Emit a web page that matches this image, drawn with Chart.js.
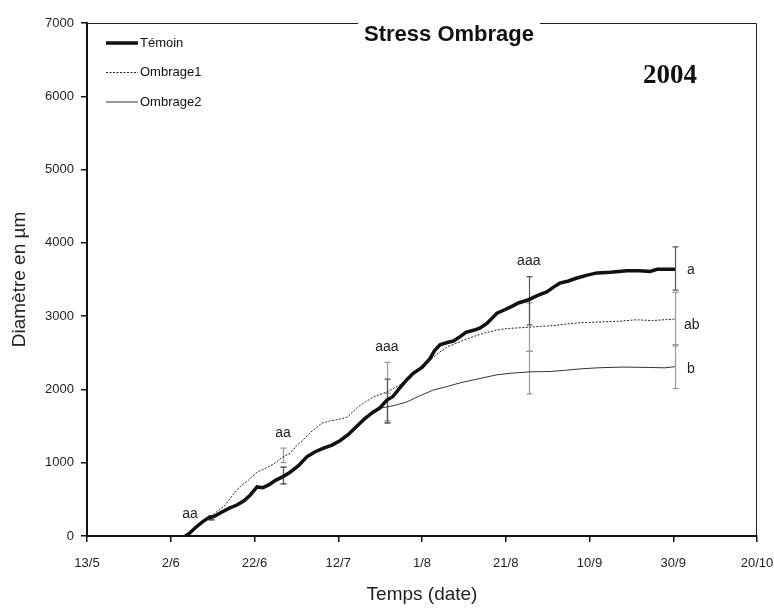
<!DOCTYPE html>
<html>
<head>
<meta charset="utf-8">
<script src="https://cdn.jsdelivr.net/npm/chart.js@4.4.0/dist/chart.umd.min.js"></script>
<style>
  html, body { margin: 0; padding: 0; background: #fff; }
</style>
</head>
<body>
<canvas id="myChart" width="774" height="610"></canvas>
<script>
// days counted from 13/5
const dateLabels = ['13/5', '2/6', '22/6', '12/7', '1/8', '21/8', '10/9', '30/9', '20/10'];

const temoinDays = [23.5, 24.5, 26, 27.5, 28.9, 30.5, 32, 34, 35.8, 37.5, 39, 40.6, 42, 43.5, 45, 46.8, 48.5, 50.5, 52.5, 54.5, 56.5, 58.5, 60.4, 62.5, 64.5, 66.5, 68.3, 69.9, 71.6, 73, 74.7, 76.5, 77.9, 80, 81.9, 83, 84.3, 86, 87.5, 89.1, 90.5, 92.5, 93.9, 95.5, 97.9, 99.5, 101.7, 103, 105.3, 107.5, 109.8, 111.5, 112.9, 115, 117, 119.5, 121.8, 125, 129, 132, 134.5, 136.1, 140.4];
const temoin = [0, 40, 120, 190, 245, 270, 320, 380, 423, 480, 560, 670, 660, 700, 760, 810, 870, 960, 1080, 1150, 1200, 1240, 1300, 1390, 1500, 1610, 1690, 1745, 1855, 1900, 2020, 2140, 2220, 2300, 2420, 2530, 2610, 2640, 2660, 2720, 2780, 2810, 2840, 2900, 3040, 3080, 3140, 3180, 3220, 3280, 3330, 3400, 3450, 3480, 3520, 3560, 3590, 3600, 3620, 3620, 3610, 3640, 3640];

const ombrage1Days = [23.5, 26, 28, 29.4, 31, 33, 34.8, 36.5, 38.5, 40.6, 42.5, 44.5, 46.8, 48.5, 50, 51.6, 53.5, 56.1, 58, 60, 62.1, 64.5, 66.5, 68.5, 71.6, 74.7, 77, 79.5, 81.9, 84, 86, 89, 92.2, 95, 97.9, 100, 103, 105.8, 108, 111.3, 114, 117.7, 122, 127, 131, 135, 140.4];
const ombrage1 = [0, 100, 200, 260, 330, 420, 560, 670, 760, 870, 920, 980, 1080, 1130, 1230, 1310, 1420, 1540, 1570, 1590, 1620, 1750, 1830, 1900, 1965, 2060, 2190, 2300, 2400, 2500, 2580, 2650, 2720, 2770, 2810, 2830, 2840, 2850, 2860, 2870, 2890, 2910, 2920, 2930, 2950, 2940, 2960];

const ombrage2Days = [23.5, 24.5, 26, 27.5, 28.9, 30.5, 32, 34, 35.8, 37.5, 39, 40.6, 42, 43.5, 45, 46.8, 48.5, 50.5, 52.5, 54.5, 56.5, 58.5, 60.4, 62.5, 64.5, 66.5, 68.3, 69.9, 71.6, 74, 76.4, 79, 82.6, 86, 89.1, 91.5, 93.9, 97.9, 101, 105.8, 110.6, 114, 117.7, 122, 128, 134, 138, 140.4];
const ombrage2 = [0, 40, 120, 190, 245, 270, 320, 380, 423, 480, 560, 670, 660, 700, 760, 810, 870, 960, 1080, 1150, 1200, 1240, 1300, 1390, 1500, 1610, 1690, 1745, 1760, 1790, 1830, 1900, 1990, 2040, 2090, 2120, 2150, 2200, 2220, 2240, 2245, 2260, 2280, 2295, 2305, 2300, 2295, 2310];

// error bars (mean +/- err) at the measurement dates
const errDays = [29.6, 46.8, 71.6, 105.5, 140.4];
const temoinMean = [250, 825, 1840, 3210, 3650];
const temoinErr = [30, 115, 300, 330, 295];
const ombrage1Mean = [255, 1100, 1960, 2850, 2960];
const ombrage1Err = [25, 100, 410, 330, 365];
const ombrage2Mean = [250, 825, 1760, 2230, 2310];
const ombrage2Err = [30, 115, 190, 290, 300];

const sigLetters = ['aa', 'aa', 'aaa', 'aaa'];
const finalLetters = ['a', 'ab', 'b'];

const seriesNames = ['Témoin', 'Ombrage1', 'Ombrage2'];

const toPoints = (xs, ys) => xs.map((x, i) => ({ x: x, y: ys[i] }));

const FONT = '"Liberation Sans", Arial, sans-serif';

const extras = {
  id: 'extras',
  beforeDatasetsDraw(chart) {
    const c = chart.ctx;
    const xs = chart.scales.x, ys = chart.scales.y;
    const sets = [
      [ombrage2Mean, ombrage2Err, '#9a9a9a'],
      [ombrage1Mean, ombrage1Err, '#9a9a9a'],
      [temoinMean, temoinErr, '#555']
    ];
    c.save();
    c.lineWidth = 1.2;
    sets.forEach(([m, e, col]) => {
      c.strokeStyle = col;
      errDays.forEach((d, i) => {
        const px = Math.round(xs.getPixelForValue(d)) + 0.5;
        const top = ys.getPixelForValue(m[i] + e[i]);
        const bot = ys.getPixelForValue(m[i] - e[i]);
        c.beginPath();
        c.moveTo(px, top); c.lineTo(px, bot);
        c.moveTo(px - 3, top); c.lineTo(px + 3, top);
        c.moveTo(px - 3, bot); c.lineTo(px + 3, bot);
        c.stroke();
      });
    });
    c.restore();
  },
  afterDraw(chart) {
    const c = chart.ctx;
    const a = chart.chartArea;
    const xs = chart.scales.x, ys = chart.scales.y;
    c.save();
    // frame top + right
    c.strokeStyle = '#222';
    c.lineWidth = 1;
    c.beginPath();
    c.moveTo(a.left, a.top + 0.5); c.lineTo(a.right - 0.5, a.top + 0.5);
    c.lineTo(a.right - 0.5, a.bottom);
    c.stroke();

    // title with white background over frame
    c.font = 'bold 22px ' + FONT;
    const title = 'Stress Ombrage';
    const tw = c.measureText(title).width;
    const cx = 449;
    c.fillStyle = '#fff';
    c.fillRect(cx - tw / 2 - 6, a.top - 4, tw + 12, 30);
    c.fillStyle = '#111';
    c.textAlign = 'center';
    c.textBaseline = 'middle';
    c.fillText(title, cx, a.top + 12);

    c.font = 'bold 27px "Liberation Serif", "Times New Roman", serif';
    c.fillText('2004', 670, 76);

    // legend
    const lx0 = a.left + 19, lx1 = a.left + 51;
    const rows = [
      [3.5, [], '#111'],
      [1, [2, 1.5], '#222'],
      [1, [], '#333']
    ];
    c.font = '13px ' + FONT;
    c.textAlign = 'left';
    rows.forEach((r, i) => {
      const y = a.top + 20 + i * 29.5;
      c.lineWidth = r[0];
      c.setLineDash(r[1]);
      c.strokeStyle = r[2];
      c.beginPath();
      c.moveTo(lx0, y); c.lineTo(lx1, y);
      c.stroke();
      c.setLineDash([]);
      c.fillStyle = '#111';
      c.fillText(seriesNames[i], lx1 + 2, y);
    });

    // significance letters
    c.font = '14px ' + FONT;
    c.fillStyle = '#222';
    sigLetters.forEach((s, i) => {
      const px = xs.getPixelForValue(errDays[i]);
      const top = Math.min(
        ys.getPixelForValue(temoinMean[i] + temoinErr[i]),
        ys.getPixelForValue(ombrage1Mean[i] + ombrage1Err[i]),
        ys.getPixelForValue(ombrage2Mean[i] + ombrage2Err[i]));
      c.textAlign = 'center';
      if (i === 0) {
        c.fillText(s, px - 21, top - 1);
      } else {
        c.fillText(s, px, top - 15);
      }
    });
    const last = errDays.length - 1;
    const ends = [temoinMean[last], ombrage1Mean[last], ombrage2Mean[last]];
    c.textAlign = 'left';
    ends.forEach((v, i) => {
      const px = xs.getPixelForValue(errDays[last]);
      const off = i === 1 ? 9 : 12;
      const dy = i === 1 ? 6 : 2;
      c.fillText(finalLetters[i], px + off, ys.getPixelForValue(v) + dy);
    });
    c.restore();
  }
};

const myChart = new Chart(document.getElementById('myChart'), {
  type: 'line',
  data: {
    datasets: [
      {
        label: seriesNames[0],
        data: toPoints(temoinDays, temoin),
        borderColor: '#111',
        borderWidth: 3.5,
        pointRadius: 0,
        tension: 0
      },
      {
        label: seriesNames[1],
        data: toPoints(ombrage1Days, ombrage1),
        borderColor: '#222',
        borderWidth: 1,
        borderDash: [2, 1.5],
        pointRadius: 0,
        tension: 0
      },
      {
        label: seriesNames[2],
        data: toPoints(ombrage2Days, ombrage2),
        borderColor: '#333',
        borderWidth: 1,
        pointRadius: 0,
        tension: 0
      }
    ]
  },
  options: {
    responsive: false,
    animation: false,
    layout: { padding: { top: 23, right: 0, left: 0, bottom: 0 } },
    plugins: {
      legend: { display: false },
      tooltip: { enabled: false }
    },
    scales: {
      x: {
        type: 'linear',
        min: 0,
        max: 160,
        afterFit: s => { s.height = 74; s.paddingRight = 17; },
        ticks: {
          stepSize: 20,
          padding: 14,
          color: '#222',
          font: { family: FONT, size: 13 },
          callback: v => dateLabels[Math.round(v / 20)]
        },
        grid: { drawOnChartArea: false, tickLength: 6, color: '#111', lineWidth: 1.5 },
        border: { color: '#111', width: 2 },
        title: {
          display: true,
          text: 'Temps (date)',
          color: '#222',
          font: { family: FONT, size: 19 },
          padding: { top: 10 }
        }
      },
      y: {
        min: 0,
        max: 7000,
        afterFit: s => { s.width = 87; },
        ticks: {
          stepSize: 1000,
          padding: 7,
          color: '#222',
          font: { family: FONT, size: 13 },
          callback: v => String(v)
        },
        grid: { drawOnChartArea: false, tickLength: 6, color: '#111', lineWidth: 1.5 },
        border: { color: '#111', width: 2 },
        title: {
          display: true,
          text: 'Diamètre en µm',
          color: '#222',
          font: { family: FONT, size: 19 },
          padding: { bottom: 0, top: 8 }
        }
      }
    }
  },
  plugins: [extras]
});
</script>
</body>
</html>
